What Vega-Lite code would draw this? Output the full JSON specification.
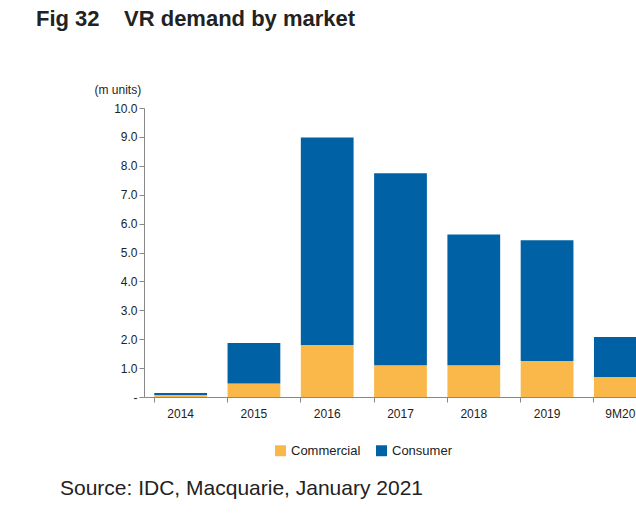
{
  "$schema": "https://vega.github.io/schema/vega-lite/v6.json",
  "background": "white",
  "padding": {"left": 36, "top": 8, "right": 6, "bottom": 6},
  "title": {"text": "Fig 32\u00a0\u00a0\u00a0\u00a0VR demand by market", "anchor": "start", "dx": -24, "fontSize": 22, "fontWeight": "bold", "font": "Liberation Sans", "color": "#222222", "offset": 52},
  "config": {"font": "Liberation Sans", "view": {"stroke": null}, "concat": {"spacing": 58}},
  "vconcat": [
    {
      "width": 513,
      "height": 289,
      "data": {"values": [
        {"year": "2014", "market": "Commercial", "v": 0.07},
        {"year": "2014", "market": "Consumer", "v": 0.07},
        {"year": "2015", "market": "Commercial", "v": 0.47},
        {"year": "2015", "market": "Consumer", "v": 1.40},
        {"year": "2016", "market": "Commercial", "v": 1.8},
        {"year": "2016", "market": "Consumer", "v": 7.18},
        {"year": "2017", "market": "Commercial", "v": 1.1},
        {"year": "2017", "market": "Consumer", "v": 6.64},
        {"year": "2018", "market": "Commercial", "v": 1.1},
        {"year": "2018", "market": "Consumer", "v": 4.52},
        {"year": "2019", "market": "Commercial", "v": 1.25},
        {"year": "2019", "market": "Consumer", "v": 4.17},
        {"year": "9M20", "market": "Commercial", "v": 0.69},
        {"year": "9M20", "market": "Consumer", "v": 1.39}
      ]},
      "transform": [{"calculate": "datum.market == 'Commercial' ? 0 : 1", "as": "ord"}],
      "mark": {"type": "bar"},
      "encoding": {
        "x": {"field": "year", "type": "nominal", "title": null,
          "scale": {"paddingInner": 0.28, "paddingOuter": 0.14},
          "axis": {"labelAngle": 0, "labelFontSize": 12, "labelColor": "#222", "domainColor": "#888", "tickColor": "#888", "ticks": true, "bandPosition": 0, "labelPadding": 6}},
        "y": {"field": "v", "type": "quantitative", "stack": "zero",
          "scale": {"domain": [0, 10]},
          "axis": {"values": [0,1,2,3,4,5,6,7,8,9,10], "format": ".1f", "labelExpr": "datum.value == 0 ? '-' : datum.label", "grid": false, "labelFontSize": 12, "labelColor": "#222", "domainColor": "#888", "tickColor": "#888",
            "title": "(m units)", "titleAngle": 0, "titleAlign": "left", "titleBaseline": "bottom", "titleX": -50, "titleY": -12, "titleFontWeight": "normal", "titleFontSize": 12, "titleColor": "#222"}},
        "color": {"field": "market", "type": "nominal", "title": null,
          "scale": {"domain": ["Commercial", "Consumer"], "range": ["#FBB84A", "#0062A4"]},
          "legend": {"orient": "none", "legendX": 130, "legendY": 336, "direction": "horizontal", "symbolType": "square", "symbolSize": 120, "labelFontSize": 13, "labelColor": "#222", "columnPadding": 14}},
        "order": {"field": "ord"}
      }
    },
    {
      "width": 513,
      "height": 24,
      "data": {"values": [{"t": "Source: IDC, Macquarie, January 2021"}]},
      "mark": {"type": "text", "align": "left", "baseline": "middle", "fontSize": 21, "color": "#222"},
      "encoding": {"text": {"field": "t"}, "x": {"value": -84}, "y": {"value": 12}}
    }
  ]
}
